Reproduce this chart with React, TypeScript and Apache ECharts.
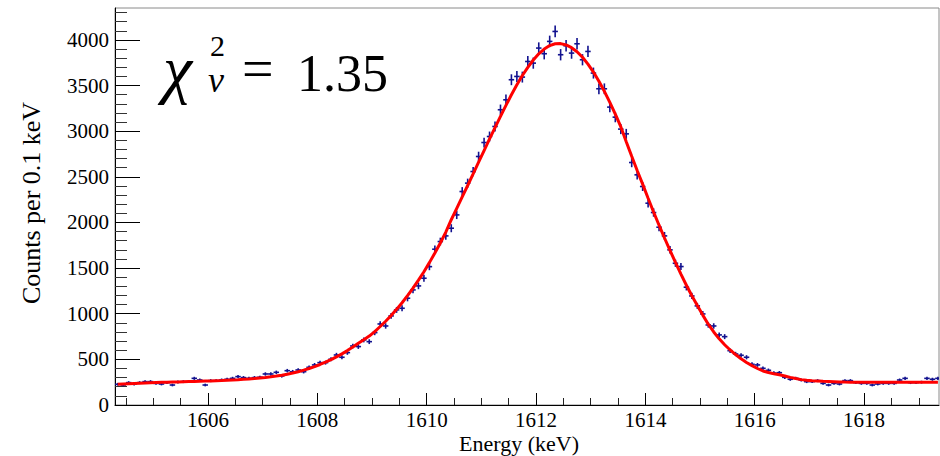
import React, { useEffect, useRef } from "react";
import * as echarts from "echarts";

// Histogram binning (0.1 keV bins starting at 1604.3 keV)
const BIN_START = 1604.3;
const BIN_WIDTH = 0.1;

// Counts per 0.1 keV bin (bin centres 1604.35 ... 1619.35)
const counts = [
  227, 219, 245, 230, 245, 256, 256, 237, 230, 245,
  219, 252, 256, 256, 292, 274, 219, 267, 267, 274,
  282, 292, 311, 300, 292, 300, 304, 340, 340, 358,
  318, 376, 365, 384, 365, 413, 439, 464, 464, 501,
  548, 523, 574, 647, 640, 713, 694, 793, 888, 866,
  976, 1042, 1060, 1170, 1261, 1305, 1389, 1516, 1707, 1791,
  1853, 1937, 2083, 2339, 2431, 2558, 2723, 2876, 2942, 3052,
  3235, 3344, 3564, 3600, 3593, 3764, 3746, 3911, 3849, 3984,
  4093, 3838, 3936, 3856, 3958, 3783, 3874, 3637, 3465, 3465,
  3264, 3154, 3023, 2971, 2657, 2522, 2394, 2211, 2109, 1948,
  1853, 1700, 1553, 1517, 1291, 1195, 1086, 998, 877, 866,
  768, 749, 595, 559, 545, 523, 446, 439, 402, 380,
  350, 354, 303, 282, 292, 274, 256, 256, 267, 237,
  219, 237, 230, 267, 267, 245, 237, 237, 219, 230,
  237, 237, 237, 274, 292, 245, 245, 250, 292, 282,
  292,
];

// Fitted curve values at the same bin centres
const fitValues = [
  227, 230, 233, 236, 239, 242, 245, 247, 249, 250,
  252, 253, 255, 257, 258, 260, 262, 264, 266, 268,
  271, 274, 277, 281, 285, 290, 296, 302, 309, 317,
  326, 337, 350, 365, 382, 400, 421, 444, 469, 497,
  528, 560, 596, 635, 677, 716, 755, 805, 860, 918,
  980, 1048, 1120, 1198, 1280, 1368, 1460, 1560, 1665, 1775,
  1895, 2030, 2155, 2280, 2405, 2532, 2660, 2788, 2915, 3040,
  3162, 3283, 3400, 3510, 3610, 3700, 3780, 3848, 3900, 3938,
  3958, 3960, 3945, 3915, 3870, 3810, 3735, 3648, 3548, 3437,
  3316, 3187, 3050, 2885, 2725, 2570, 2420, 2265, 2115, 1970,
  1830, 1695, 1562, 1435, 1312, 1197, 1090, 985, 885, 800,
  725, 660, 603, 553, 506, 466, 431, 400, 373, 356,
  343, 331, 318, 303, 290, 278, 270, 265, 262, 259,
  257, 255, 253, 251, 250, 249, 248, 248, 248, 248,
  248, 248, 248, 248, 248, 248, 248, 248, 248, 248,
  248,
];

const X_MIN = 1604.3;
const X_MAX = 1619.37;
const Y_MIN = 0;
const Y_MAX = 4350;

const xMajorTicks = [1606, 1608, 1610, 1612, 1614, 1616, 1618];
const xMinorTicks = [
  1604.5, 1605, 1605.5, 1606.5, 1607, 1607.5, 1608.5, 1609, 1609.5,
  1610.5, 1611, 1611.5, 1612.5, 1613, 1613.5, 1614.5, 1615, 1615.5,
  1616.5, 1617, 1617.5, 1618.5, 1619,
];
const yMajorTicks = [0, 500, 1000, 1500, 2000, 2500, 3000, 3500, 4000];
const yMinorTicks = [
  100, 200, 300, 400, 600, 700, 800, 900, 1100, 1200, 1300, 1400,
  1600, 1700, 1800, 1900, 2100, 2200, 2300, 2400, 2600, 2700, 2800, 2900,
  3100, 3200, 3300, 3400, 3600, 3700, 3800, 3900, 4100, 4200, 4300,
];

const SERIF = "Liberation Serif";

export default function App() {
  const ref = useRef<HTMLDivElement>(null);

  useEffect(() => {
    document.body.style.margin = "0";
    if (!ref.current) return;
    const chart = echarts.init(ref.current, undefined, { renderer: "svg" });

    const centers = counts.map((_, i) => +(BIN_START + BIN_WIDTH * (i + 0.5)).toFixed(2));
    const histData = counts.map((c, i) => [centers[i], c]);
    const fitData = fitValues.map((v, i) => [centers[i], v]);

    const axisCommonX = {
      type: "value",
      min: X_MIN,
      max: X_MAX,
      position: "bottom",
      splitLine: { show: false },
    };
    const axisCommonY = {
      type: "value",
      min: Y_MIN,
      max: Y_MAX,
      position: "left",
      splitLine: { show: false },
    };

    const txt = (
      text: string,
      x: number,
      y: number,
      size: number,
      italic = false,
      extra: any = {}
    ) => ({
      type: "text",
      x,
      y,
      ...extra,
      style: {
        text,
        fontFamily: SERIF,
        fontSize: size,
        fontStyle: italic ? "italic" : "normal",
        fill: "#000",
        textAlign: extra.align || "left",
        textVerticalAlign: "middle",
      },
    });

    const option: any = {
      animation: false,
      backgroundColor: "#ffffff",
      textStyle: { fontFamily: SERIF },
      grid: {
        left: 115,
        top: 8,
        width: 824,
        height: 397,
        show: true,
        borderColor: "#8a8a8a",
        borderWidth: 1,
        backgroundColor: "transparent",
      },
      xAxis: [
        {
          ...axisCommonX,
          axisLine: { show: true, onZero: false, lineStyle: { color: "#000", width: 1 } },
          axisTick: {
            show: true,
            inside: true,
            length: 12,
            customValues: xMajorTicks,
            lineStyle: { color: "#000", width: 1 },
          },
          axisLabel: {
            show: true,
            customValues: xMajorTicks,
            margin: 4,
            fontFamily: SERIF,
            fontSize: 21,
            color: "#000",
            formatter: (v: number) => String(v),
          },
        },
        {
          ...axisCommonX,
          axisLine: { show: false },
          axisTick: {
            show: true,
            inside: true,
            length: 7,
            customValues: xMinorTicks,
            lineStyle: { color: "#222", width: 1 },
          },
          axisLabel: { show: false },
        },
      ],
      yAxis: [
        {
          ...axisCommonY,
          axisLine: { show: true, onZero: false, lineStyle: { color: "#000", width: 1 } },
          axisTick: {
            show: true,
            inside: true,
            length: 25,
            customValues: yMajorTicks,
            lineStyle: { color: "#000", width: 1 },
          },
          axisLabel: {
            show: true,
            customValues: yMajorTicks,
            margin: 6,
            fontFamily: SERIF,
            fontSize: 21,
            color: "#000",
            formatter: (v: number) => String(v),
          },
        },
        {
          ...axisCommonY,
          axisLine: { show: false },
          axisTick: {
            show: true,
            inside: true,
            length: 12,
            customValues: yMinorTicks,
            lineStyle: { color: "#333", width: 1 },
          },
          axisLabel: { show: false },
        },
      ],
      series: [
        {
          type: "custom",
          xAxisIndex: 0,
          yAxisIndex: 0,
          clip: true,
          z: 3,
          data: histData,
          renderItem: (params: any, api: any) => {
            const x = api.value(0);
            const y = api.value(1);
            const e = Math.sqrt(y);
            const l = api.coord([x - BIN_WIDTH / 2, y]);
            const r = api.coord([x + BIN_WIDTH / 2, y]);
            const t = api.coord([x, y + e]);
            const b = api.coord([x, y - e]);
            const style = { stroke: "#12128f", lineWidth: 1.6 };
            return {
              type: "group",
              children: [
                { type: "line", shape: { x1: l[0], y1: l[1], x2: r[0], y2: r[1] }, style },
                { type: "line", shape: { x1: t[0], y1: t[1], x2: b[0], y2: b[1] }, style },
              ],
            };
          },
        },
        {
          type: "line",
          xAxisIndex: 0,
          yAxisIndex: 0,
          data: fitData,
          symbol: "none",
          showSymbol: false,
          smooth: false,
          z: 4,
          lineStyle: { color: "#ff0000", width: 3 },
        },
      ],
      graphic: [
        txt("Energy (keV)", 519, 443, 22, false, { align: "center" }),
        txt("Counts per 0.1 keV", 31, 203, 26, false, { align: "center", rotation: Math.PI / 2 }),
        txt("χ", 163, 68, 66, true),
        txt("2", 210, 45, 30),
        txt("ν", 208, 80, 36, true),
        txt("=", 242, 69, 56),
        txt("1.35", 297, 73, 52),
      ],
    };

    chart.setOption(option);
    return () => chart.dispose();
  }, []);

  return <div ref={ref} style={{ width: 940, height: 456 }} />;
}
